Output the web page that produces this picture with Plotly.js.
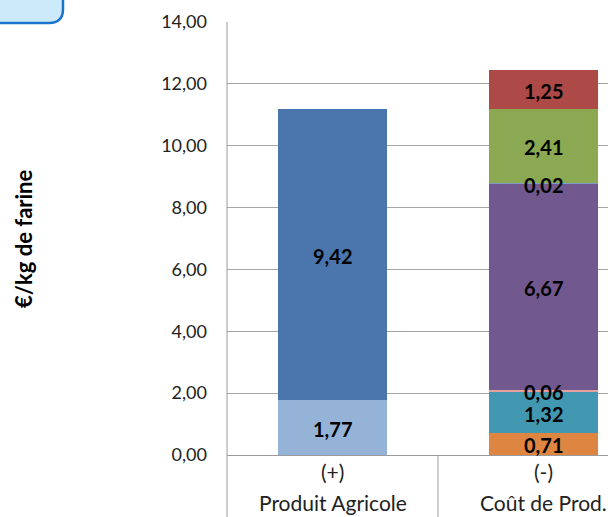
<!DOCTYPE html>
<html><head><meta charset="utf-8">
<script src="https://cdn.plot.ly/plotly-3.0.1.min.js"></script>
<style>html,body{margin:0;padding:0;background:#fff}#chart{width:608px;height:517px}</style>
</head><body><div id="chart"></div>
<script>
// Data
const categories = ["Produit Agricole", "Coût de Prod."];
const categorySigns = ["(+)", "(-)"];
const produitValues = [1.77, 9.42];
const produitColors = ["#95B3D7", "#4A76AD"];
const coutValues = [0.71, 1.32, 0.06, 6.67, 0.02, 2.41, 1.25];
const coutColors = ["#DE8542", "#4298B0", "#E6A0A0", "#71588F", "#7E9CC5", "#8BA852", "#AD4A47"];
const yTicks = [0, 2, 4, 6, 8, 10, 12, 14];
const yTitle = "€/kg de farine";

const fmt = v => v.toFixed(2).replace('.', ',');
const font = "Lato, 'Open Sans', sans-serif";

const traces = [];
const annotations = [];
function addStack(xi, values, colors) {
  let cum = 0;
  values.forEach((v, i) => {
    traces.push({type: 'bar', x: [xi], y: [v], marker: {color: colors[i]}, width: 0.515,
      hoverinfo: 'skip', showlegend: false});
    annotations.push({x: xi, xref: 'x', y: cum + v / 2, yref: 'y', yshift: -1, text: '<b>' + fmt(v) + '</b>',
      showarrow: false, xanchor: 'center', yanchor: 'middle', font: {family: font, size: 20, color: '#000'}});
    cum += v;
  });
}
addStack(0, produitValues, produitColors);
addStack(1, coutValues, coutColors);

const L = 227, T = 22, W = 608 - L, H = 455 - T;
const px = x => (x - L) / W, py = y => (455 - y) / H;

categories.forEach((c, i) => {
  annotations.push({x: i, xref: 'x', y: 0, yref: 'paper', yshift: -16, text: categorySigns[i],
    showarrow: false, xanchor: 'center', yanchor: 'middle', font: {family: font, size: 21, color: '#222'}});
  annotations.push({x: i, xref: 'x', y: 0, yref: 'paper', yshift: -47, text: c,
    showarrow: false, xanchor: 'center', yanchor: 'middle', font: {family: font, size: 21, color: '#222'}});
});
annotations.push({x: px(24), xref: 'paper', y: py(239), yref: 'paper', text: '<b>' + yTitle + '</b>',
  textangle: -90, showarrow: false, xanchor: 'center', yanchor: 'middle', font: {family: font, size: 22, color: '#000'}});

const r = 14;
const bx0 = px(-10), bx1 = px(63), by0 = py(-10), by1 = py(23);
const boxPath = `M ${bx0},${by0} L ${bx1},${by0} L ${bx1},${py(23 - r)} Q ${bx1},${by1} ${px(63 - r)},${by1} L ${bx0},${by1} Z`;

const shapes = [
  {type: 'path', xref: 'paper', yref: 'paper', path: boxPath, fillcolor: '#CDEAFB', line: {color: '#1874CD', width: 2.5}},
  {type: 'line', xref: 'paper', yref: 'paper', x0: 0, x1: 0, y0: 1, y1: py(520), line: {color: '#9A9A9A', width: 1}},
  {type: 'line', xref: 'x', yref: 'paper', x0: 0.5, x1: 0.5, y0: 0, y1: py(520), line: {color: '#9A9A9A', width: 1}}
];

const layout = {
  width: 608, height: 517,
  margin: {l: L, r: 0, t: T, b: 517 - 455},
  paper_bgcolor: '#fff', plot_bgcolor: '#fff',
  barmode: 'stack', showlegend: false,
  separators: ', ',
  font: {family: font},
  xaxis: {range: [-0.5, W / 211 - 0.5], showticklabels: false, showgrid: false, zeroline: false, ticks: '', fixedrange: true},
  yaxis: {range: [0, 14], tickvals: yTicks, tickformat: '.2f', showgrid: true, gridcolor: '#A6A6A6', gridwidth: 1,
    zeroline: true, zerolinecolor: '#9A9A9A', showline: false, ticks: '', ticklabelstandoff: 19,
    tickfont: {family: font, size: 18, color: '#222'}, fixedrange: true},
  annotations: annotations,
  shapes: shapes
};
Plotly.newPlot('chart', traces, layout, {displayModeBar: false, staticPlot: true});
</script>
</body></html>
